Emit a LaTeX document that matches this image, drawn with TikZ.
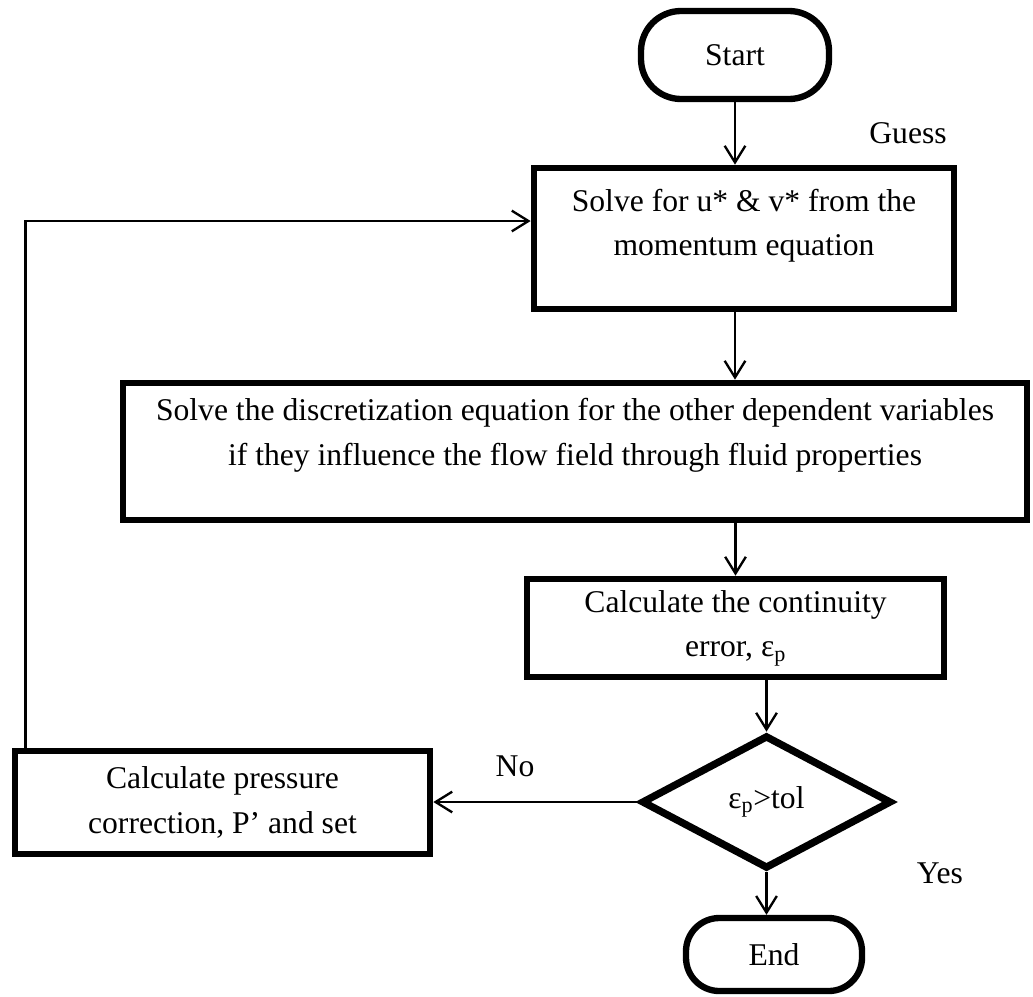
\documentclass[tikz,border=0pt]{standalone}
\usepackage{fontspec}
\setmainfont{Liberation Serif}
\usetikzlibrary{arrows.meta, shapes.geometric}

\begin{document}
\begin{tikzpicture}[
      x=0.03cm, y=-0.03cm,
      box/.style={draw, line width=0.2cm, align=center, inner sep=0pt},
      term/.style={box, line width=0.19cm, minimum width=5.64cm,
        minimum height=2.64cm, rounded corners=1.2cm},
      decision/.style={draw, diamond, line width=0.22cm, minimum width=7.5cm,
        minimum height=4cm, inner sep=0pt},
      flow/.style={->, line width=0.07cm},
      font=\fontsize{27pt}{38pt}\selectfont,
      >={Straight Barb[length=0.5cm, width=0.62cm]}
    ]
      \useasboundingbox (0,0) rectangle (1033,996);
      \node[term] (start) at (735,55) {Start};
      \node[box, minimum width=12.6cm, minimum height=4.23cm,
        label={[align=center, yshift=0.39cm]center:Solve for u* \& v* from the\\momentum equation}]
        (momentum) at (744,238.5) {};
      \node[box, minimum width=27.12cm, minimum height=4.11cm,
        label={[align=center, yshift=0.48cm]center:Solve the discretization equation for the other dependent variables\\if they influence the flow field through fluid properties}]
        (scalars) at (575,451.5) {};
      \node[box, minimum width=12.51cm, minimum height=2.94cm]
        (continuity) at (735.5,628) {Calculate the continuity\\error, ε\textsubscript{p}};
      \node[decision] (check) at (766.5,802) {ε\textsubscript{p}>tol};
      \node[box, minimum width=12.45cm, minimum height=3.09cm]
        (correct) at (222.5,802.5) {Calculate pressure\\correction, P’ and set};
      \node[term, minimum width=5.28cm, minimum height=2.19cm,
        rounded corners=1cm] (finish) at (774,954.5) {End};

      \node (guess) at (908,133) {Guess};
      \node (no) at (515,766) {No};
      \node (yes) at (940,873) {Yes};

      \draw[flow] (start) -- (start |- momentum.north);
      \draw[flow] (momentum.south -| start) -- (scalars.north -| start);
      \draw[flow] (continuity.north |- scalars.south) -- (continuity.north);
      \draw[flow] (check.north |- continuity.south) -- (check.north);
      \draw[flow] (check.south) -- (check.south |- finish.north);
      \draw[flow] (check.west) -- (check.west -| correct.east);
      % loop back to the momentum step
      \draw[flow] ([xshift=0.42cm]correct.north west) |- ([yshift=0.525cm]momentum.west);
    \end{tikzpicture}
\end{document}
